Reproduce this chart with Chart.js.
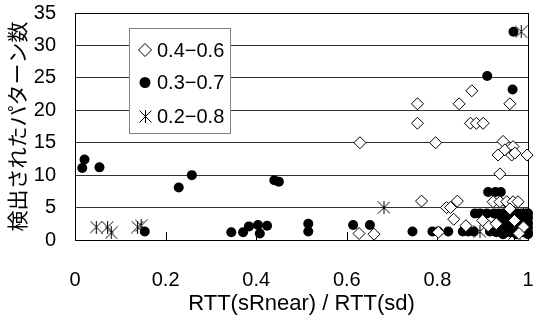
<!DOCTYPE html>
<html lang="ja">
<head>
<meta charset="UTF-8">
<title>検出されたパターン数</title>
<script src="https://cdn.jsdelivr.net/npm/chart.js@4"></script>
<style>
  html, body { margin: 0; padding: 0; background: #fff; }
</style>
</head>
<body>
<canvas id="c" width="535" height="320"></canvas>
<script>
// tick labels
const xTicks = [0, 0.2, 0.4, 0.6, 0.8, 1];
const yTicks = [0, 5, 10, 15, 20, 25, 30, 35];

// series labels
const seriesNames = ['0.4\u22120.6', '0.3\u22120.7', '0.2\u22120.8'];

// 0.4-0.6 (open diamonds) [x, y]
const ptsA = [
  [0.627, 1.0], [0.66, 0.9], [0.629, 15.0], [0.756, 21.0], [0.756, 18.0],
  [0.796, 15.0], [0.765, 6.0], [0.82, 5.0], [0.829, 5.0], [0.844, 6.0],
  [0.836, 3.2], [0.863, 2.2], [0.848, 21.0], [0.876, 23.0], [0.873, 18.0],
  [0.886, 18.0], [0.901, 18.0], [0.96, 21.0], [0.945, 15.2], [0.934, 13.1],
  [0.949, 13.9], [0.967, 14.4], [0.964, 13.1], [0.971, 13.4], [0.998, 13.1],
  [0.938, 10.2], [0.912, 2.2], [0.923, 5.9], [0.938, 5.9], [0.953, 5.9],
  [0.967, 5.9], [0.978, 5.9], [0.90, 3.0], [0.93, 2.5], [0.96, 4.8],
  [0.97, 3.0], [0.99, 2.0], [0.98, 1.0], [0.802, 1.2]
];

// 0.3-0.7 (filled circles) [x, y]
const ptsB = [
  [0.016, 11.1], [0.021, 12.4], [0.054, 11.2], [0.154, 1.3], [0.229, 8.1],
  [0.258, 10.0], [0.345, 1.2], [0.371, 1.2], [0.384, 2.1], [0.404, 2.3],
  [0.408, 1.0], [0.424, 2.2], [0.44, 9.2], [0.45, 9.0], [0.515, 2.5],
  [0.515, 1.3], [0.614, 2.3], [0.651, 2.3], [0.745, 1.3], [0.789, 1.3],
  [0.802, 1.3], [0.824, 1.3], [0.856, 1.3], [0.868, 1.3], [0.88, 1.3],
  [0.883, 4.1], [0.894, 4.1], [0.909, 4.1], [0.916, 1.3], [0.91, 25.3],
  [0.966, 23.2], [0.968, 32.1], [0.912, 7.4], [0.928, 7.4], [0.94, 7.4],
  [0.925, 4.1], [0.935, 4.1], [0.945, 4.1], [0.955, 4.1], [0.965, 4.1], [0.975, 4.1],
  [0.985, 4.1], [0.995, 4.1], [1.0, 4.1],
  [0.94, 3.4], [0.95, 3.4], [0.96, 3.4], [0.97, 3.4], [0.98, 3.4], [0.99, 3.4], [1.0, 3.4],
  [0.945, 2.6], [0.955, 2.6], [0.965, 2.6], [0.975, 2.6], [0.985, 2.6], [0.995, 2.6], [1.0, 2.6],
  [0.94, 1.9], [0.95, 1.9], [0.96, 1.9], [0.97, 1.9], [0.98, 1.9], [0.99, 1.9], [1.0, 1.9],
  [0.93, 1.2], [0.94, 1.2], [0.95, 1.2], [0.96, 1.2], [0.97, 1.2], [0.98, 1.2],
  [0.99, 1.2], [1.0, 1.2], [0.945, 0.9], [0.975, 0.9], [1.0, 0.9]
];

// 0.2-0.8 (asterisks) [x, y]
const ptsC = [
  [0.047, 2.0], [0.072, 2.0], [0.08, 1.1], [0.138, 2.0], [0.146, 2.2],
  [0.682, 5.0], [0.985, 32.1], [0.894, 1.3], [0.93, 3.5], [0.95, 5.0],
  [0.96, 4.8], [0.94, 2.0], [0.97, 1.0], [0.99, 4.0]
];

const toXY = arr => arr.map(p => ({ x: p[0], y: p[1] }));

function makeAsterisk(size) {
  const c = document.createElement('canvas');
  c.width = size; c.height = size;
  const g = c.getContext('2d');
  g.strokeStyle = '#000';
  g.lineWidth = 1;
  g.beginPath();
  g.moveTo(0.5, 0.5); g.lineTo(size - 0.5, size - 0.5);
  g.moveTo(size - 0.5, 0.5); g.lineTo(0.5, size - 0.5);
  g.moveTo(size / 2, 0); g.lineTo(size / 2, size);
  g.stroke();
  return c;
}
const asterisk = makeAsterisk(13);

const FONT = "'Liberation Sans', Arial, sans-serif";

// frame + inward tick marks, drawn under the points
const framePlugin = {
  id: 'frame',
  beforeDatasetsDraw(chart) {
    const { ctx, chartArea: a, scales } = chart;
    ctx.save();
    ctx.strokeStyle = '#000';
    ctx.lineWidth = 1;
    ctx.beginPath();
    const r = Math.round(a.right) + 0.5;
    ctx.moveTo(r, a.top); ctx.lineTo(r, a.bottom);
    xTicks.slice(1, -1).forEach(v => {
      const px = Math.round(scales.x.getPixelForValue(v)) + 0.5;
      ctx.moveTo(px, a.bottom); ctx.lineTo(px, a.bottom - 8);
    });
    ctx.stroke();
    ctx.restore();
  }
};

// boxed legend inside the plot
const legendPlugin = {
  id: 'boxLegend',
  afterDatasetsDraw(chart) {
    const ctx = chart.ctx;
    const bx = 129.5, by = 28.5, bw = 101, bh = 105;
    ctx.save();
    ctx.fillStyle = '#fff';
    ctx.fillRect(bx, by, bw, bh);
    ctx.strokeStyle = '#808080';
    ctx.lineWidth = 1;
    ctx.strokeRect(bx, by, bw, bh);
    const rows = [50, 82.5, 116];
    const mx = 145;
    ctx.font = '20px ' + FONT;
    ctx.textBaseline = 'middle';
    chart.data.datasets.forEach((ds, i) => {
      const y = rows[i];
      ctx.lineWidth = 1;
      if (ds.pointStyle === 'rectRot') {
        const r = 6.5;
        ctx.beginPath();
        ctx.moveTo(mx - r, y); ctx.lineTo(mx, y - r);
        ctx.lineTo(mx + r, y); ctx.lineTo(mx, y + r);
        ctx.closePath();
        ctx.fillStyle = '#fff'; ctx.fill();
        ctx.strokeStyle = '#000'; ctx.stroke();
      } else if (ds.pointStyle === 'circle') {
        ctx.beginPath();
        ctx.arc(mx, y, 5.5, 0, Math.PI * 2);
        ctx.fillStyle = '#000'; ctx.fill();
      } else {
        ctx.drawImage(ds.pointStyle, Math.round(mx - 6.5), Math.round(y - 6.5));
      }
      ctx.fillStyle = '#000';
      ctx.fillText(ds.label, 157, y + 1);
    });
    ctx.restore();
  }
};

new Chart(document.getElementById('c'), {
  type: 'scatter',
  data: {
    datasets: [
      { label: seriesNames[0], data: toXY(ptsA), pointStyle: 'rectRot', pointRadius: 6,
        backgroundColor: '#fff', borderColor: '#000', borderWidth: 1, clip: false },
      { label: seriesNames[1], data: toXY(ptsB), pointStyle: 'circle', pointRadius: 5,
        backgroundColor: '#000', borderColor: '#000', borderWidth: 0, clip: false },
      { label: seriesNames[2], data: toXY(ptsC), pointStyle: asterisk, pointRadius: 6,
        backgroundColor: '#000', borderColor: '#000', borderWidth: 0, clip: false }
    ]
  },
  options: {
    responsive: false,
    animation: false,
    events: [],
    layout: { padding: { top: 13, right: 7, left: 0, bottom: 0 } },
    plugins: { legend: { display: false }, tooltip: { enabled: false } },
    scales: {
      x: {
        type: 'linear', min: 0, max: 1,
        afterFit: s => { s.height = 80; },
        afterBuildTicks: s => { s.ticks = xTicks.map(v => ({ value: v })); },
        grid: { display: false, drawTicks: true, tickLength: 28 },
        border: { display: true, color: '#000', width: 1 },
        ticks: { padding: 0, color: '#000', font: { family: FONT, size: 20 },
                 callback: v => String(Number(v.toFixed(1))) },
        title: { display: true, text: 'RTT(sRnear) / RTT(sd)', color: '#000',
                 font: { family: FONT, size: 22 }, padding: { top: 0, bottom: 3 } }
      },
      y: {
        type: 'linear', min: 0, max: 35,
        afterFit: s => { s.width = 75; },
        afterBuildTicks: s => { s.ticks = yTicks.map(v => ({ value: v })); },
        grid: { drawTicks: true, tickLength: 19, tickColor: 'rgba(0,0,0,0)', lineWidth: 1,
                color: c => (c.tick.value === 0 || c.tick.value === 35) ? '#000' : '#333' },
        border: { display: true, color: '#000', width: 1 },
        ticks: { padding: 0, color: '#000', font: { family: FONT, size: 20 } },
        title: { display: true, text: '検出されたパターン数', color: '#000',
                 font: { family: "'Noto Sans CJK JP', sans-serif", size: 21 },
                 padding: { top: 4, bottom: 0 } }
      }
    }
  },
  plugins: [framePlugin, legendPlugin]
});
</script>
</body>
</html>
